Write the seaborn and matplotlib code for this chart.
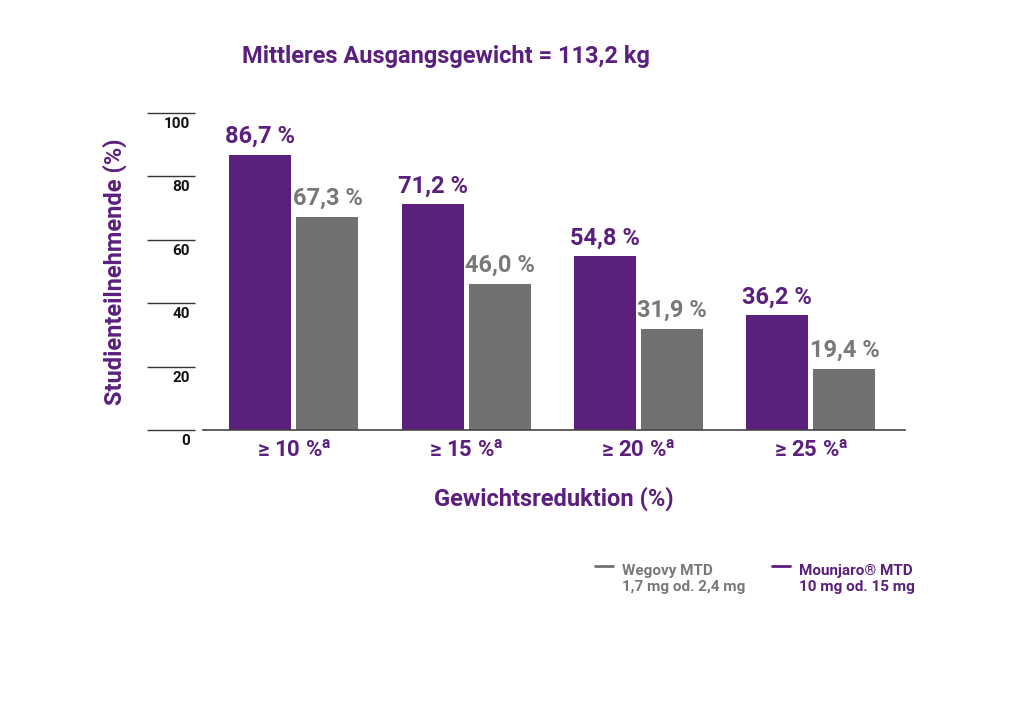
import matplotlib
matplotlib.use('Agg')
import matplotlib.pyplot as plt
import matplotlib.transforms as mtransforms
from matplotlib.lines import Line2D
from matplotlib.legend_handler import HandlerLine2D
import pandas as pd
import seaborn as sns

# data
categories = [r'≥ 10 %$^\mathregular{a}$', r'≥ 15 %$^\mathregular{a}$',
              r'≥ 20 %$^\mathregular{a}$', r'≥ 25 %$^\mathregular{a}$']
mounjaro = [86.7, 71.2, 54.8, 36.2]
wegovy = [67.3, 46.0, 31.9, 19.4]
series = ['Mounjaro', 'Wegovy']
legend_labels = ['Wegovy MTD\n1,7 mg od. 2,4 mg', 'Mounjaro® MTD\n10 mg od. 15 mg']
yticks = [0, 20, 40, 60, 80, 100]

PURPLE = '#5b1f7d'
GREY = '#717171'
GREY_TXT = '#787878'

sns.set_theme(style='white')
plt.rcParams['font.family'] = ['Roboto', 'DejaVu Sans']


class TopLine(HandlerLine2D):
    # legend line sits at the first text line, not the last
    def create_artists(self, legend, orig_handle, xdescent, ydescent, width, height, fontsize, trans):
        arts = super().create_artists(legend, orig_handle, xdescent, ydescent, width, height, fontsize, trans)
        for a in arts:
            a.set_ydata([y + 0.85 * fontsize for y in a.get_ydata()])
        return arts


df = pd.DataFrame({
    'cat': categories * 2,
    'val': mounjaro + wegovy,
    'series': ['Mounjaro'] * len(mounjaro) + ['Wegovy'] * len(wegovy),
})

fig = plt.figure(figsize=(10.24, 7.18), dpi=100)
ax = fig.add_axes([203 / 1024, 1 - 430 / 718, 702 / 1024, 317 / 718])

sns.barplot(data=df, x='cat', y='val', hue='series', hue_order=series,
            palette={'Mounjaro': PURPLE, 'Wegovy': GREY}, width=0.778, gap=0.075,
            saturation=1, linewidth=0, errorbar=None, legend=False, ax=ax)
ax.set_xlim(-0.528, 3.546)
ax.set_ylim(0, 100)

for cont, col in zip(ax.containers, [PURPLE, GREY_TXT]):
    ax.bar_label(cont, labels=[f'{v:.1f} %'.replace('.', ',') for v in cont.datavalues],
                 padding=5, color=col, fontsize=17, fontweight='bold')

sns.despine(ax=ax, left=True)
ax.spines['left'].set_position(('outward', 5.76))
ax.spines['bottom'].set_color('#444444')
ax.spines['bottom'].set_linewidth(1.2)

ax.set_yticks(yticks)
ax.tick_params(axis='y', left=True, length=34.6, width=1, color='#333333', labelleft=False)
off = mtransforms.offset_copy(ax.get_yaxis_transform(), fig=fig, x=-13, y=-11, units='dots')
for t in yticks:
    ax.text(0, t, str(t), transform=off, ha='right', va='center',
            fontsize=11, fontweight='bold', color='#111111')

ax.tick_params(axis='x', length=0, pad=7, labelsize=16, labelcolor=PURPLE)
for lab in ax.get_xticklabels():
    lab.set_fontweight('bold')

ax.set_xlabel('Gewichtsreduktion (%)', fontsize=17, fontweight='bold', color=PURPLE)
ax.xaxis.set_label_coords(0.5, -0.178)
ax.set_ylabel('Studienteilnehmende (%)', fontsize=17, fontweight='bold', color=PURPLE)
ax.yaxis.set_label_coords(-0.108, 0.5)

fig.text(446 / 1024, 1 - 56 / 718, 'Mittleres Ausgangsgewicht = 113,2 kg',
         ha='center', va='center', fontsize=17, fontweight='bold', color=PURPLE)

handles = [Line2D([], [], color=GREY, lw=2), Line2D([], [], color=PURPLE, lw=2)]
leg = fig.legend(handles, legend_labels, loc='upper left',
                 bbox_to_anchor=(595 / 1024, 1 - 564 / 718), ncol=2, frameon=False,
                 prop={'weight': 'bold', 'size': 11}, handlelength=1.2,
                 handletextpad=0.55, columnspacing=1.75, borderpad=0, borderaxespad=0,
                 handler_map={Line2D: TopLine()})
for t, c in zip(leg.get_texts(), [GREY_TXT, PURPLE]):
    t.set_color(c)

fig.savefig('out.png', dpi=100)
